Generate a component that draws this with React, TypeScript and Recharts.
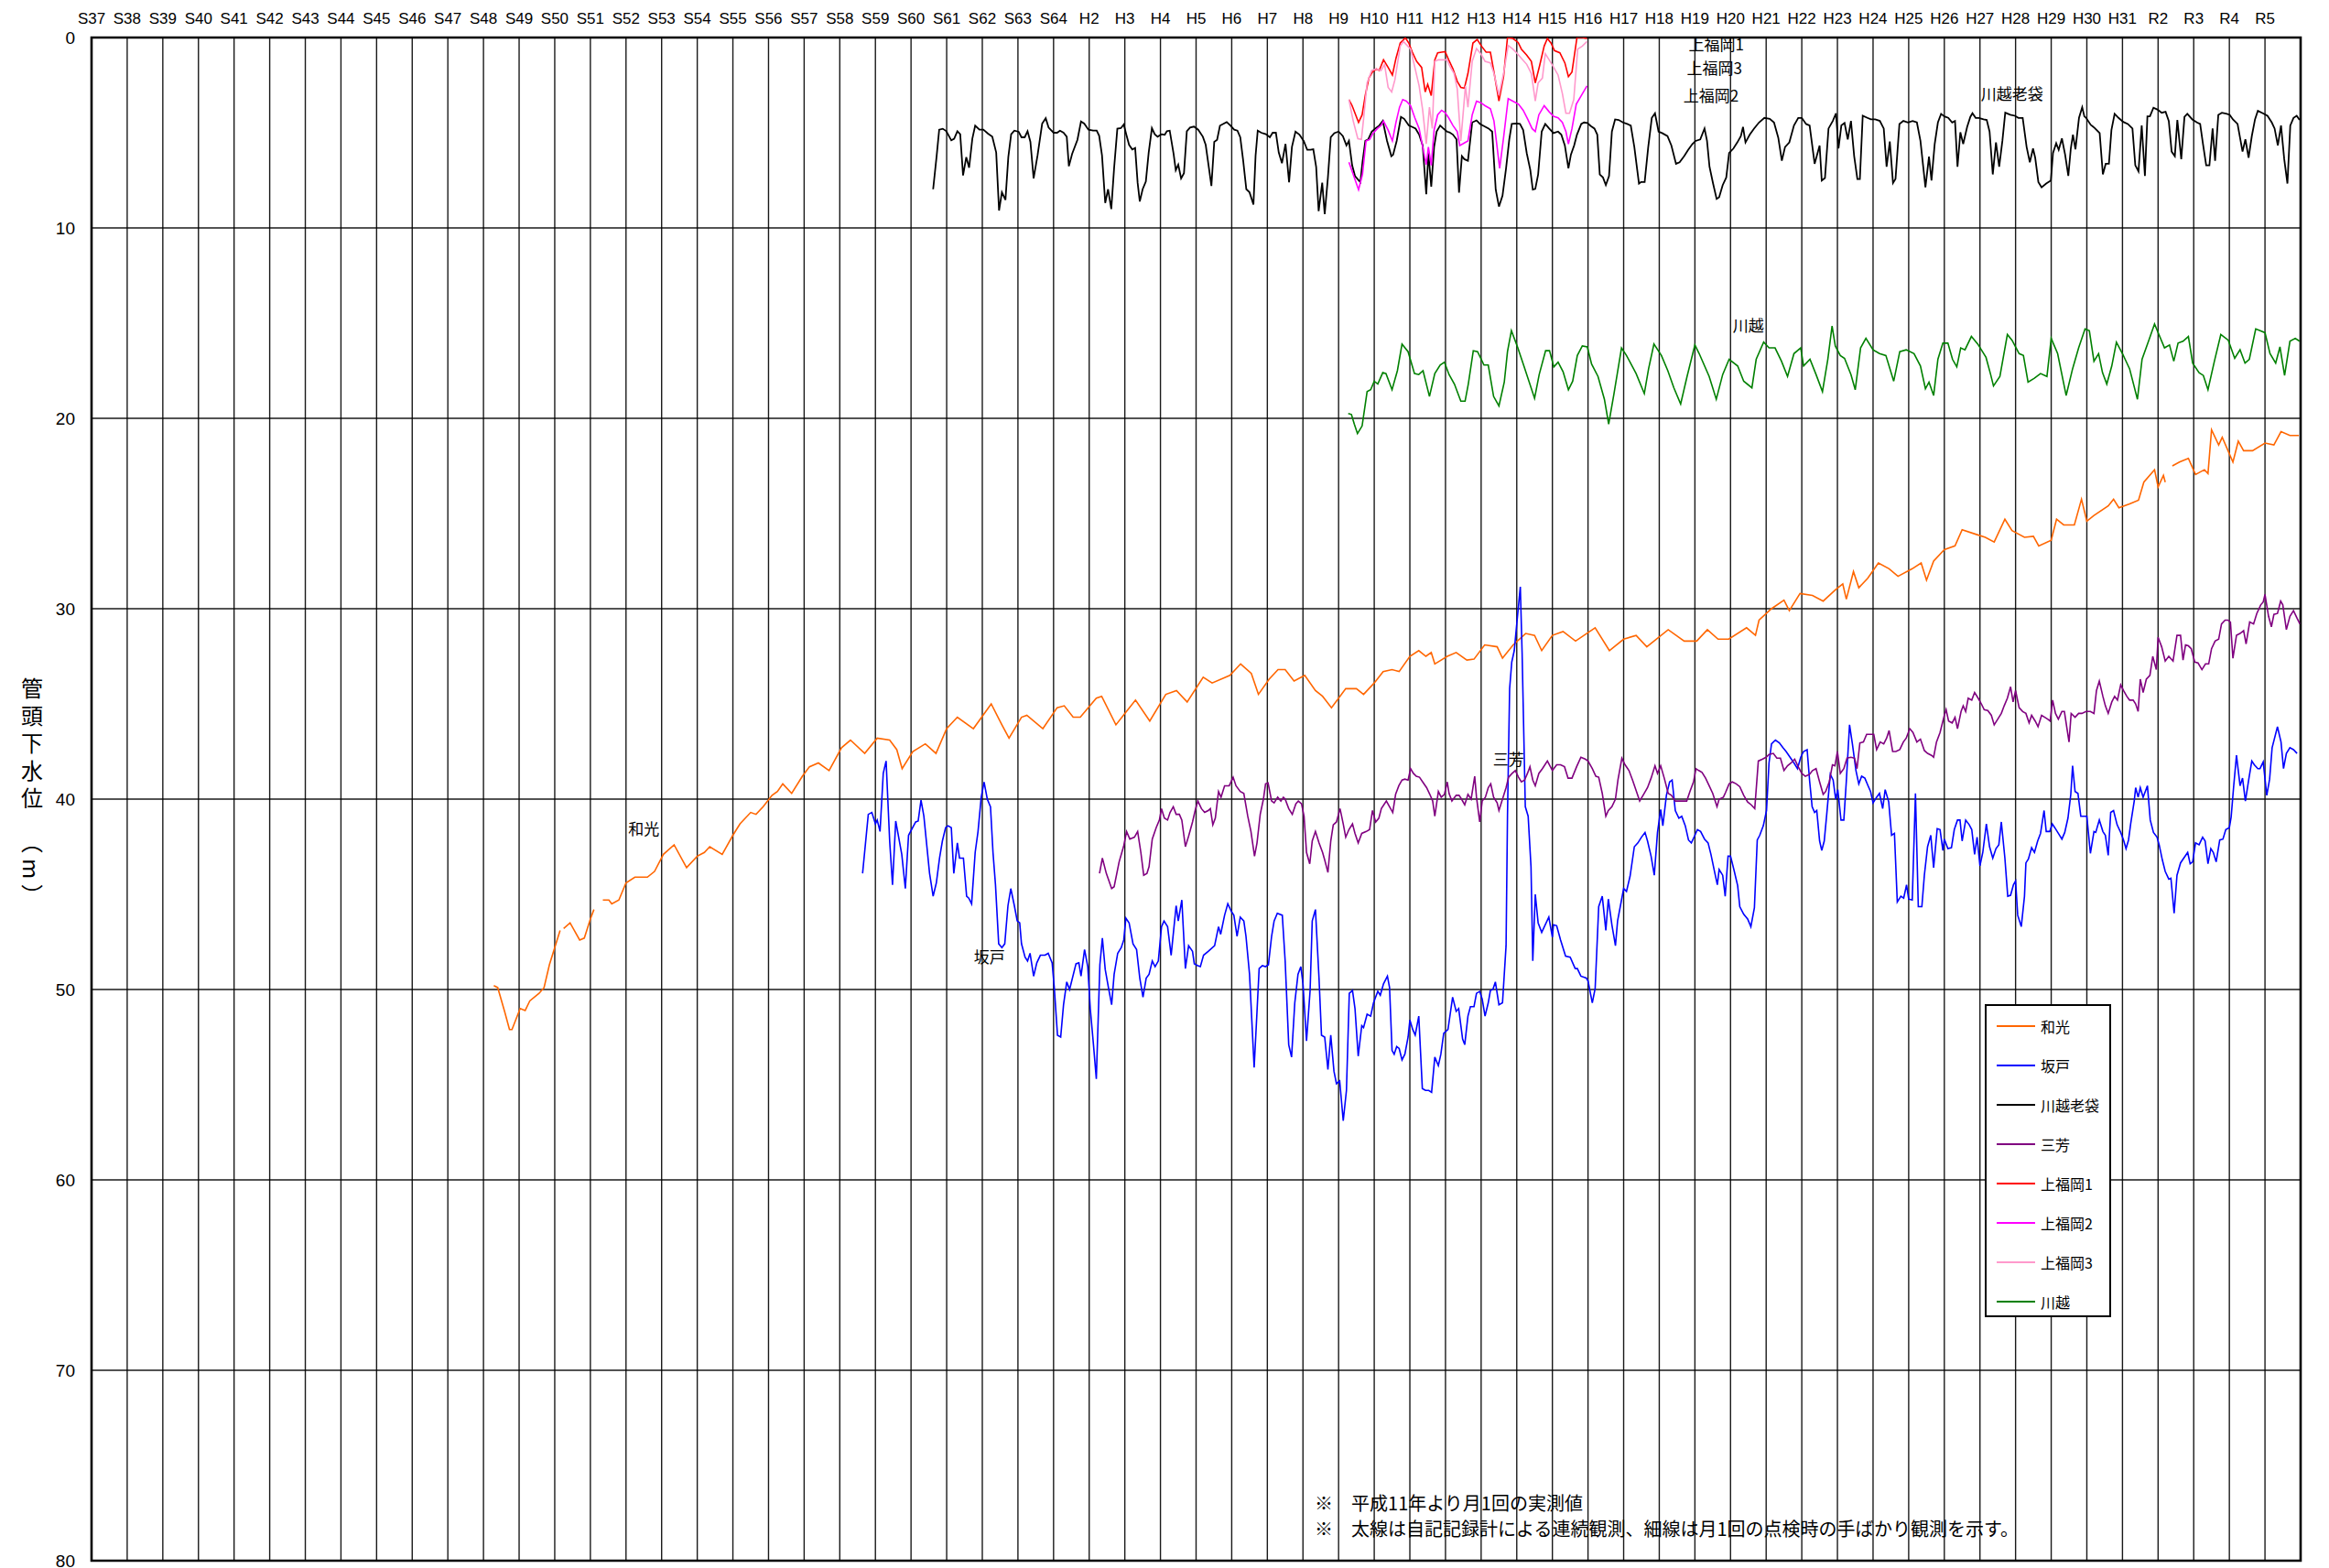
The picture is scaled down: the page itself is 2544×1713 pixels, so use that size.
import React from 'react';
import { LineChart, Line, XAxis, YAxis, CartesianGrid, ReferenceArea, ReferenceDot, Legend } from 'recharts';

type Pt = [number, number | null];

const START_YEAR = 1962;
const END_YEAR = 2024;
const ERA_LABELS = [
  'S37','S38','S39','S40','S41','S42','S43','S44','S45','S46','S47','S48','S49','S50','S51','S52','S53','S54','S55','S56','S57','S58','S59','S60','S61','S62','S63','S64',
  'H2','H3','H4','H5','H6','H7','H8','H9','H10','H11','H12','H13','H14','H15','H16','H17','H18','H19','H20','H21','H22','H23','H24','H25','H26','H27','H28','H29','H30','H31',
  'R2','R3','R4','R5',
];
const DEPTH_TICKS = [0, 10, 20, 30, 40, 50, 60, 70, 80];

const WAKO: Pt[] = [
  [1973.29,49.8],[1973.4,49.9],[1973.6,51.2],[1973.73,52.1],[1973.8,52.1],[1974.03,51.0],[1974.17,51.1],[1974.3,50.6],[1974.56,50.2],[1974.7,49.9],[1974.85,48.7],[1975.0,47.8],[1975.15,46.9],[1975.2,null],[1975.25,46.8],[1975.43,46.5],[1975.7,47.4],[1975.83,47.3],[1976.0,46.3],[1976.1,45.8],[1976.22,null],[1976.35,45.3],[1976.52,45.3],[1976.6,45.5],[1976.8,45.3],[1977.0,44.4],[1977.25,44.1],[1977.6,44.1],[1977.8,43.8],[1978.05,42.9],[1978.35,42.4],[1978.7,43.6],[1979.0,43.0],[1979.2,42.8],[1979.35,42.5],[1979.7,42.9],[1980.0,41.9],[1980.2,41.3],[1980.5,40.7],[1980.65,40.8],[1980.85,40.4],[1981.1,39.8],[1981.25,39.6],[1981.4,39.2],[1981.65,39.7],[1981.95,38.8],[1982.15,38.3],[1982.4,38.1],[1982.7,38.5],
  [1983.05,37.3],[1983.3,36.9],[1983.7,37.6],[1984.05,36.8],[1984.4,36.9],[1984.6,37.4],[1984.75,38.4],[1985.05,37.5],[1985.4,37.1],[1985.7,37.6],[1986.0,36.3],[1986.3,35.7],[1986.75,36.3],[1987.25,35.0],[1987.55,36.1],[1987.75,36.8],[1988.1,35.7],[1988.25,35.6],[1988.7,36.3],[1989.1,35.2],[1989.3,35.1],[1989.55,35.7],[1989.75,35.7],[1990.2,34.7],[1990.35,34.6],[1990.75,36.1],[1991.0,35.5],[1991.3,34.8],[1991.7,35.9],[1992.15,34.5],[1992.45,34.3],[1992.75,34.9],[1993.2,33.6],[1993.45,33.9],[1993.95,33.5],[1994.25,32.9],[1994.55,33.4],[1994.75,34.5],[1995.05,33.7],[1995.3,33.2],[1995.5,33.2],[1995.75,33.8],[1996.05,33.5],[1996.35,34.3],[1996.55,34.6],[1996.8,35.2],[1997.2,34.2],[1997.5,34.2],[1997.7,34.5],[1998.0,33.9],[1998.25,33.3],[1998.5,33.2],[1998.7,33.3],
  [1999.0,32.5],[1999.25,32.2],[1999.45,32.5],[1999.6,32.3],[1999.7,32.9],[2000.05,32.5],[2000.3,32.3],[2000.6,32.7],[2000.8,32.65],[2001.1,31.9],[2001.45,32.0],[2001.6,32.6],[2001.9,31.9],[2002.25,31.3],[2002.5,31.4],[2002.7,32.2],[2003.0,31.4],[2003.3,31.2],[2003.65,31.7],[2004.2,31.0],[2004.6,32.2],[2005.0,31.6],[2005.35,31.4],[2005.65,32.0],[2006.25,31.1],[2006.7,31.7],[2007.05,31.7],[2007.35,31.1],[2007.65,31.6],[2007.95,31.6],[2008.45,31.0],[2008.7,31.4],[2008.8,30.6],[2009.15,30.0],[2009.5,29.55],[2009.65,30.1],[2009.95,29.2],[2010.3,29.3],[2010.6,29.6],[2010.95,29.0],[2011.15,28.7],[2011.25,29.5],[2011.45,28.05],[2011.6,28.9],[2011.85,28.4],[2012.15,27.6],[2012.45,27.9],[2012.7,28.3],[2013.1,27.9],[2013.35,27.6],[2013.5,28.5],[2013.7,27.5],[2014.0,26.9],[2014.3,26.7],[2014.5,25.85],[2014.9,26.1],[2015.15,26.25],[2015.4,26.5],[2015.7,25.3],[2015.9,25.9],[2016.25,26.25],[2016.5,26.2],[2016.65,26.7],[2017.0,26.4],[2017.15,25.3],[2017.35,25.6],[2017.65,25.6],[2017.85,24.25],[2018.0,25.4],[2018.2,25.1],[2018.6,24.6],[2018.75,24.25],[2018.9,24.7],[2019.2,24.5],[2019.45,24.3],[2019.6,23.35],[2019.9,22.7],[2020.0,23.6],[2020.15,23.0],[2020.2,23.35],[2020.3,null],[2020.4,22.5],[2020.6,22.3],[2020.85,22.1],[2021.05,22.95],[2021.3,22.7],[2021.4,22.9],[2021.5,20.6],[2021.7,21.4],[2021.8,21.0],[2022.1,22.3],[2022.25,21.2],[2022.4,21.7],[2022.65,21.7],[2023.0,21.3],[2023.25,21.4],[2023.45,20.7],[2023.7,20.9],[2023.95,20.9],
];

const SAKADO: Pt[] = [
  [1983.64,43.9],[1983.8,40.8],[1983.9,40.7],[1984.0,41.3],[1984.05,41.1],[1984.13,41.7],[1984.22,38.65],[1984.3,38.0],[1984.4,42.2],[1984.48,44.5],[1984.57,41.15],[1984.74,42.9],[1984.84,44.7],[1984.93,41.9],[1985.13,41.2],[1985.2,41.15],[1985.28,40.05],[1985.36,40.9],[1985.52,43.9],[1985.62,45.1],[1985.71,44.4],[1985.8,43.1],[1985.88,42.2],[1985.97,41.5],[1986.04,41.4],[1986.13,41.5],[1986.2,43.9],[1986.3,42.3],[1986.36,43.1],[1986.47,43.1],[1986.56,45.1],[1986.62,45.2],[1986.7,45.5],[1986.8,42.8],[1986.88,41.7],[1986.97,39.9],[1987.05,39.1],[1987.14,40.0],[1987.23,40.4],[1987.3,42.8],[1987.37,44.5],[1987.46,47.6],[1987.55,47.8],[1987.63,47.6],[1987.72,45.6],[1987.8,44.7],[1987.9,45.6],[1987.98,46.4],[1988.05,46.5],[1988.1,47.6],[1988.2,48.3],[1988.27,48.5],[1988.34,48.1],[1988.44,49.3],[1988.53,48.6],[1988.63,48.2],[1988.76,48.2],[1988.85,48.1],[1988.96,48.6],[1989.02,49.9],[1989.11,52.4],[1989.2,52.5],[1989.28,50.8],[1989.37,49.6],[1989.45,50.0],[1989.63,48.65],[1989.71,48.6],[1989.77,49.3],[1989.87,47.9],[1989.96,48.8],[1990.03,51.0],[1990.12,52.9],[1990.2,54.7],[1990.3,48.7],[1990.37,47.3],[1990.45,48.95],[1990.54,49.9],[1990.63,50.8],[1990.7,49.2],[1990.8,48.1],[1990.9,47.8],[1990.97,47.4],[1991.03,46.25],[1991.12,46.5],[1991.23,47.6],[1991.33,47.9],[1991.42,49.4],[1991.51,50.4],[1991.6,49.4],[1991.68,49.2],[1991.77,48.5],[1991.85,48.8],[1991.94,48.5],[1992.03,46.7],[1992.1,46.4],[1992.2,46.7],[1992.3,48.2],[1992.44,45.6],[1992.5,46.4],[1992.6,45.3],[1992.7,48.9],[1992.79,47.7],[1992.9,48.0],[1992.95,48.65],[1993.05,48.75],[1993.12,48.8],[1993.21,48.2],[1993.34,48.0],[1993.52,47.7],[1993.63,46.7],[1993.69,47.1],[1993.8,46.1],[1993.89,45.5],[1993.99,45.9],[1994.06,46.1],[1994.15,47.2],[1994.24,46.2],[1994.34,46.4],[1994.4,47.2],[1994.5,49.2],[1994.63,54.1],[1994.71,51.15],[1994.77,48.9],[1994.86,48.75],[1994.95,48.8],[1995.03,48.7],[1995.12,47.2],[1995.19,46.4],[1995.28,46.0],[1995.42,46.1],[1995.5,48.5],[1995.6,52.9],[1995.68,53.55],[1995.77,50.7],[1995.86,49.2],[1995.94,48.8],[1996.0,49.7],[1996.1,52.7],[1996.2,50.05],[1996.26,46.4],[1996.35,45.8],[1996.45,49.4],[1996.52,52.4],[1996.61,52.5],[1996.7,54.2],[1996.78,52.4],[1996.87,54.3],[1996.94,54.95],[1997.03,54.8],[1997.13,56.9],[1997.22,55.3],[1997.3,50.2],[1997.39,50.05],[1997.46,51.0],[1997.55,53.5],[1997.65,51.9],[1997.7,52.0],[1997.8,51.3],[1997.9,51.4],[1997.98,50.7],[1998.1,50.1],[1998.17,50.3],[1998.26,49.7],[1998.37,49.3],[1998.43,49.9],[1998.5,53.2],[1998.56,53.4],[1998.63,53.0],[1998.7,53.1],[1998.78,53.7],[1998.86,53.4],[1998.95,52.5],[1999.0,51.6],[1999.08,52.1],[1999.15,52.4],[1999.25,51.4],[1999.35,55.2],[1999.44,55.3],[1999.53,55.3],[1999.61,55.4],[1999.7,53.55],[1999.8,54.0],[1999.87,53.4],[1999.95,52.3],[2000.07,52.1],[2000.2,50.4],[2000.3,51.15],[2000.37,51.0],[2000.48,52.6],[2000.54,52.9],[2000.63,51.4],[2000.7,50.9],[2000.8,50.9],[2000.87,50.2],[2000.96,50.1],[2001.03,50.5],[2001.11,51.4],[2001.2,50.7],[2001.26,50.05],[2001.33,50.0],[2001.4,49.6],[2001.5,50.8],[2001.6,50.7],[2001.7,47.7],[2001.74,40.85],[2001.8,34.2],[2001.86,32.8],[2001.93,32.2],[2002.0,30.8],[2002.1,28.85],[2002.15,32.3],[2002.24,40.4],[2002.32,40.9],[2002.4,43.55],[2002.45,48.5],[2002.52,45.0],[2002.6,46.5],[2002.7,47.0],
  [2002.9,46.2],[2003.0,47.25],[2003.03,46.6],[2003.12,46.65],[2003.23,47.4],[2003.37,48.25],[2003.5,48.3],[2003.64,48.9],[2003.7,48.9],[2003.8,49.3],[2003.95,49.4],[2004.0,49.55],[2004.12,50.7],[2004.2,49.95],[2004.3,45.65],[2004.4,45.1],[2004.5,46.9],[2004.57,45.25],[2004.67,46.6],[2004.77,47.7],[2004.83,46.4],[2005.0,44.7],[2005.08,44.85],[2005.18,44.05],[2005.3,42.5],[2005.4,42.3],[2005.5,42.0],[2005.6,41.75],[2005.67,42.2],[2005.77,43.0],[2005.86,44.0],[2005.95,41.75],[2006.04,40.55],[2006.1,41.4],[2006.2,39.8],[2006.29,39.1],[2006.36,39.0],[2006.45,40.6],[2006.55,41.0],[2006.63,40.9],[2006.73,41.4],[2006.82,42.15],[2006.9,42.3],[2007.0,41.9],[2007.07,41.6],[2007.16,41.7],[2007.27,42.1],[2007.37,42.3],[2007.45,42.9],[2007.55,43.8],[2007.63,44.5],[2007.68,43.7],[2007.78,44.0],[2007.85,45.1],[2007.93,43.0],[2008.0,43.0],[2008.1,43.75],[2008.2,44.55],[2008.26,45.65],[2008.37,46.05],[2008.48,46.3],[2008.57,46.7],[2008.67,45.7],[2008.75,42.15],[2008.82,41.9],[2008.92,41.4],[2009.01,40.6],[2009.08,38.1],[2009.15,37.1],[2009.26,36.9],[2009.37,37.05],[2009.47,37.3],[2009.56,37.5],[2009.67,37.8],[2009.78,38.1],[2009.88,38.4],[2009.97,37.8],[2010.05,37.5],[2010.15,37.4],[2010.22,39.05],[2010.29,40.4],[2010.36,40.7],[2010.42,40.6],[2010.5,42.2],[2010.56,42.7],[2010.63,42.2],[2010.7,40.8],[2010.8,38.7],[2010.88,39.0],[2010.95,40.0],[2011.01,39.5],[2011.1,41.1],[2011.18,41.1],[2011.25,39.05],[2011.34,36.1],[2011.42,37.1],[2011.52,38.5],[2011.6,39.2],[2011.68,38.8],[2011.77,38.9],[2011.86,39.3],[2011.93,39.6],[2012.0,40.2],[2012.1,39.9],[2012.18,39.7],[2012.27,40.5],[2012.34,39.5],[2012.44,40.15],[2012.52,41.9],[2012.6,41.8],[2012.68,45.4],[2012.78,45.1],[2012.86,45.2],[2012.94,44.5],[2013.0,45.25],[2013.1,45.3],[2013.19,39.7],[2013.27,45.65],[2013.37,45.65],[2013.44,44.0],[2013.53,42.5],[2013.62,41.9],[2013.7,43.6],[2013.8,41.55],[2013.88,41.6],[2013.96,42.7],[2014.0,42.1],[2014.1,42.6],[2014.2,42.55],[2014.28,41.6],[2014.37,41.1],[2014.44,41.1],[2014.5,42.2],[2014.6,41.1],[2014.7,41.35],[2014.77,41.6],[2014.85,42.9],[2014.92,42.0],[2015.0,43.5],[2015.08,42.8],[2015.18,41.3],[2015.27,42.5],[2015.36,43.1],[2015.45,42.6],[2015.53,42.4],[2015.6,41.2],[2015.7,43.1],[2015.78,45.1],[2015.86,45.05],[2015.94,44.5],[2016.0,44.3],[2016.06,46.1],[2016.16,46.7],[2016.25,45.1],[2016.29,43.35],[2016.36,43.15],[2016.45,42.55],[2016.53,42.8],[2016.62,42.2],[2016.7,41.8],[2016.8,40.6],[2016.86,41.7],[2016.96,41.7],[2017.03,41.3],[2017.1,41.5],[2017.2,41.8],[2017.3,42.1],[2017.38,41.75],[2017.47,41.0],[2017.55,39.75],[2017.6,38.25],[2017.67,39.6],[2017.75,39.7],[2017.83,40.9],[2017.93,40.9],[2018.0,40.9],[2018.1,42.85],[2018.2,41.7],[2018.25,41.75],[2018.35,41.1],[2018.45,41.7],[2018.52,41.9],[2018.6,42.95],[2018.67,40.7],[2018.75,40.6],[2018.85,41.35],[2018.95,41.75],[2019.03,42.15],[2019.1,42.6],[2019.17,42.15],[2019.23,41.3],[2019.33,40.1],[2019.37,39.4],[2019.44,39.9],[2019.5,39.4],[2019.58,39.9],[2019.7,39.3],[2019.78,41.1],[2019.87,41.75],[2019.97,42.0],[2020.03,42.4],[2020.12,43.2],[2020.2,43.8],[2020.3,44.2],[2020.36,44.15],[2020.45,46.0],[2020.53,44.0],[2020.63,43.35],[2020.72,43.1],[2020.83,42.8],[2020.9,43.4],[2020.97,43.3],[2021.05,42.3],[2021.15,42.4],[2021.25,42.0],[2021.32,42.2],[2021.4,43.4],[2021.48,42.6],[2021.55,42.8],[2021.63,43.3],[2021.73,42.15],[2021.82,42.1],[2021.9,41.6],[2022.0,41.5],[2022.05,40.95],[2022.12,39.35],[2022.2,37.7],[2022.3,39.3],[2022.37,38.9],[2022.45,40.1],[2022.55,38.9],[2022.63,38.0],[2022.7,38.2],[2022.8,38.4],[2022.86,38.4],[2022.95,38.05],[2023.05,39.8],[2023.13,38.95],[2023.2,37.3],[2023.35,36.2],[2023.45,37.0],[2023.52,38.4],[2023.6,37.6],[2023.7,37.3],[2023.8,37.4],[2023.9,37.6],
];

const OIBUKURO: Pt[] = [
  [1985.62,7.97],[1985.72,6.2],[1985.79,4.84],[1985.89,4.79],[1985.99,4.92],[1986.13,5.4],[1986.21,5.32],[1986.3,4.92],[1986.38,5.08],[1986.46,7.24],[1986.55,6.28],[1986.63,6.84],[1986.72,5.32],[1986.8,4.63],[1986.92,4.84],[1987.03,4.84],[1987.16,5.05],[1987.28,5.21],[1987.39,6.04],[1987.47,9.09],[1987.55,8.13],[1987.65,8.53],[1987.73,6.28],[1987.81,5.08],[1987.9,4.89],[1988.02,4.95],[1988.1,5.24],[1988.19,5.24],[1988.27,4.92],[1988.35,5.48],[1988.44,7.4],[1988.55,6.2],[1988.68,4.52],[1988.78,4.24],[1988.86,4.73],[1989.0,5.0],[1989.1,5.0],[1989.18,4.89],[1989.28,5.0],[1989.37,5.21],[1989.43,6.76],[1989.52,6.12],[1989.67,5.37],[1989.77,4.41],[1989.86,4.52],[1989.98,4.84],[1990.11,4.89],[1990.21,4.89],[1990.28,5.16],[1990.36,6.2],[1990.45,8.69],[1990.53,7.97],[1990.62,9.01],[1990.7,6.84],[1990.79,4.79],[1990.89,4.76],[1990.97,4.57],[1991.04,5.08],[1991.12,5.64],[1991.21,5.88],[1991.29,5.8],[1991.36,7.64],[1991.42,8.61],[1991.5,7.97],[1991.59,7.56],[1991.67,6.04],[1991.76,4.76],[1991.84,5.08],[1991.92,5.21],[1992.03,5.08],[1992.12,5.11],[1992.18,4.92],[1992.26,4.89],[1992.37,6.12],[1992.43,6.97],[1992.5,6.68],[1992.58,7.4],[1992.66,7.13],[1992.74,4.92],[1992.83,4.73],[1992.94,4.68],[1993.06,4.84],[1993.19,5.21],[1993.27,5.64],[1993.36,6.84],[1993.43,7.8],[1993.51,5.48],[1993.59,5.37],[1993.67,4.63],[1993.78,4.52],[1993.86,4.44],[1993.97,4.63],[1994.07,4.84],[1994.16,4.89],[1994.24,5.24],[1994.32,6.44],[1994.41,7.97],[1994.5,8.13],[1994.61,8.77],[1994.67,6.2],[1994.73,4.89],[1994.83,5.0],[1994.96,5.08],[1995.07,5.24],[1995.15,5.0],[1995.24,5.0],[1995.32,6.04],[1995.41,6.6],
  [1995.51,5.59],[1995.61,7.6],[1995.69,5.75],[1995.79,4.94],[1995.9,5.1],[1996.02,5.43],[1996.12,5.9],[1996.21,5.9],[1996.29,5.87],[1996.37,6.79],[1996.44,9.12],[1996.54,7.62],[1996.61,9.28],[1996.7,7.35],[1996.78,5.23],[1996.88,5.02],[1997.0,4.94],[1997.12,5.18],[1997.22,5.67],[1997.29,5.43],[1997.38,6.71],[1997.46,7.27],[1997.61,7.6],[1997.67,6.55],[1997.75,5.43],[1997.83,5.35],[1997.93,4.94],[1998.03,4.78],[1998.14,4.62],[1998.24,4.38],[1998.36,5.43],[1998.48,6.23],[1998.53,6.15],[1998.63,5.43],[1998.75,4.17],[1998.84,4.27],[1998.97,4.62],[1999.07,4.7],[1999.16,4.78],[1999.26,5.1],[1999.36,5.67],[1999.46,8.23],[1999.52,6.07],[1999.6,7.83],[1999.68,5.75],[1999.75,4.94],[1999.85,4.62],[1999.94,4.78],[2000.04,4.94],[2000.11,4.98],[2000.21,5.1],[2000.31,5.35],[2000.38,8.15],[2000.46,6.23],[2000.53,6.39],[2000.63,6.47],[2000.75,4.46],[2000.87,4.35],[2000.97,4.54],[2001.08,4.65],[2001.21,4.78],[2001.31,4.94],[2001.41,7.99],[2001.5,8.88],[2001.6,8.31],[2001.7,6.87],[2001.79,5.35],[2001.86,4.54],[2001.99,4.51],[2002.09,4.54],[2002.18,4.86],[2002.28,6.07],[2002.38,6.95],[2002.45,7.99],[2002.52,7.95],[2002.6,7.19],[2002.7,4.94],[2002.8,4.54],[2002.91,4.78],[2003.03,5.02],[2003.16,4.94],[2003.25,5.1],[2003.35,5.67],[2003.45,6.87],[2003.52,6.15],[2003.61,5.67],[2003.69,5.1],[2003.81,4.54],[2003.89,4.46],[2003.98,4.49],[2004.08,4.65],[2004.18,4.78],[2004.26,5.1],[2004.33,7.19],[2004.42,7.35],[2004.5,7.75],[2004.59,7.27],[2004.67,4.94],[2004.76,4.3],[2004.86,4.33],[2004.98,4.46],[2005.1,4.54],[2005.2,4.62],[2005.3,5.75],[2005.43,7.67],[2005.49,7.59],[2005.59,7.59],[2005.69,5.75],[2005.79,4.22],[2005.88,3.98],[2005.98,4.94],[2006.08,5.02],[2006.23,5.18],[2006.34,5.67],[2006.47,6.63],[2006.57,6.55],[2006.7,6.23],[2006.81,5.9],[2006.93,5.59],[2007.02,5.43],[2007.15,5.35],[2007.27,4.78],[2007.34,5.43],[2007.41,6.79],[2007.51,7.67],[2007.61,8.48],[2007.68,8.39],[2007.78,7.75],[2007.88,7.35],[2007.96,6.07],[2008.08,5.83],[2008.19,5.51],[2008.29,5.18],[2008.35,4.7],[2008.42,5.51],[2008.54,5.1],[2008.66,4.78],[2008.8,4.46],[2008.95,4.22],[2009.1,4.27],[2009.22,4.46],[2009.34,5.26],[2009.44,6.47],[2009.53,5.75],[2009.65,5.51],[2009.78,4.62],[2009.9,4.22],[2010.0,4.22],[2010.12,4.54],[2010.22,4.62],[2010.36,6.63],
  [2010.5,5.67],[2010.56,7.51],[2010.65,7.38],[2010.75,4.78],[2010.87,4.38],[2010.96,3.98],[2011.03,5.83],[2011.11,4.62],[2011.2,4.49],[2011.29,5.35],[2011.38,4.38],[2011.47,6.23],[2011.56,7.43],[2011.63,7.43],[2011.71,4.11],[2011.84,4.22],[2011.94,4.3],[2012.06,4.3],[2012.19,4.38],[2012.3,4.78],[2012.38,6.79],[2012.47,5.46],[2012.56,7.64],[2012.63,7.43],[2012.74,4.54],[2012.85,4.38],[2012.98,4.46],[2013.11,4.38],[2013.23,4.46],[2013.33,5.43],[2013.47,7.87],[2013.57,6.26],[2013.64,7.51],[2013.73,5.59],[2013.82,4.46],[2013.91,4.01],[2014.0,4.14],[2014.11,4.22],[2014.22,4.46],[2014.3,4.38],[2014.37,6.79],[2014.45,4.98],[2014.53,5.59],[2014.64,4.7],[2014.73,4.17],[2014.79,3.98],[2014.88,4.22],[2014.97,4.22],[2015.1,4.3],[2015.19,4.33],[2015.27,4.94],[2015.36,7.19],[2015.45,5.51],[2015.54,6.79],[2015.63,5.43],[2015.71,3.95],[2015.85,4.06],[2015.98,4.11],[2016.08,4.22],[2016.2,4.22],[2016.31,5.75],[2016.4,6.55],[2016.49,5.83],[2016.55,6.31],[2016.64,7.59],[2016.73,7.87],[2016.86,7.67],[2016.99,7.51],[2017.05,6.07],[2017.14,5.55],[2017.21,5.9],[2017.3,5.3],[2017.39,6.15],[2017.48,7.27],[2017.55,5.83],[2017.61,5.1],[2017.68,5.87],[2017.78,4.22],[2017.87,3.66],[2017.93,4.14],[2017.98,4.22],[2018.11,4.59],[2018.22,4.75],[2018.36,5.02],[2018.45,7.19],[2018.53,6.63],[2018.62,6.63],[2018.69,4.86],[2018.78,4.01],[2018.89,4.22],[2019.02,4.43],[2019.15,4.54],[2019.28,4.78],[2019.36,6.71],[2019.45,7.03],[2019.54,4.62],[2019.63,7.27],[2019.7,4.14],[2019.77,4.14],[2019.87,3.69],[2019.99,3.79],[2020.1,3.95],[2020.21,3.9],[2020.3,4.38],[2020.38,5.99],[2020.47,6.23],[2020.54,4.33],[2020.65,6.39],[2020.74,4.17],[2020.82,4.01],[2020.96,4.3],[2021.09,4.46],[2021.18,4.54],[2021.26,5.59],[2021.35,6.71],[2021.44,6.71],[2021.53,4.78],[2021.6,6.47],[2021.69,4.06],[2021.79,3.95],[2021.93,4.01],[2022.01,4.06],[2022.1,4.3],[2022.23,4.54],[2022.37,5.99],[2022.45,5.35],[2022.54,6.31],[2022.63,5.18],[2022.72,4.3],[2022.8,3.85],[2022.94,3.98],[2023.07,4.11],[2023.19,4.46],[2023.27,4.78],[2023.36,5.67],[2023.45,4.62],[2023.54,6.39],[2023.63,7.67],[2023.71,4.62],[2023.8,4.22],[2023.89,4.11],[2023.97,4.33],
];

const MIYOSHI: Pt[] = [
  [1990.29,43.9],[1990.37,43.1],[1990.48,43.9],[1990.63,44.7],[1990.7,44.6],[1990.84,43.3],[1990.97,42.45],[1991.05,41.7],[1991.14,42.1],[1991.27,42.0],[1991.36,41.7],[1991.45,42.8],[1991.53,44.0],[1991.62,43.9],[1991.68,43.55],[1991.77,42.1],[1991.88,41.5],[1991.97,41.1],[1992.03,40.5],[1992.11,41.0],[1992.2,41.1],[1992.27,40.7],[1992.36,40.4],[1992.44,40.8],[1992.53,40.8],[1992.6,41.1],[1992.7,42.5],[1992.79,41.95],[1992.9,41.2],[1992.98,40.55],[1993.05,40.1],[1993.15,40.5],[1993.24,40.7],[1993.34,40.6],[1993.4,40.5],[1993.47,41.35],[1993.54,41.0],[1993.63,39.6],[1993.7,39.9],[1993.8,39.3],[1993.93,39.3],[1994.04,38.85],[1994.12,39.3],[1994.24,39.6],[1994.34,39.7],[1994.45,40.9],[1994.54,41.7],[1994.64,43.0],[1994.71,42.3],[1994.8,40.8],[1994.89,40.0],[1994.95,39.2],[1995.02,39.15],[1995.12,40.1],[1995.19,40.2],[1995.29,39.9],[1995.38,40.1],[1995.45,39.9],[1995.5,40.0],[1995.6,40.5],[1995.7,40.8],[1995.8,40.25],[1995.87,40.1],[1995.96,40.25],[1996.03,40.9],[1996.1,42.8],[1996.19,43.4],[1996.26,42.2],[1996.35,41.7],[1996.45,42.3],[1996.55,42.8],[1996.61,43.2],[1996.7,43.85],[1996.78,42.2],[1996.85,41.35],[1996.94,41.2],[1997.04,40.5],[1997.13,41.3],[1997.2,42.0],[1997.29,41.6],[1997.39,41.3],[1997.46,41.8],[1997.55,42.3],[1997.65,41.8],[1997.78,41.7],[1997.87,41.6],[1997.95,40.6],[1998.04,41.2],[1998.13,41.0],[1998.2,40.5],[1998.34,40.1],[1998.43,40.4],[1998.52,40.7],[1998.6,39.75],[1998.69,39.3],[1998.78,39.0],[1998.86,38.95],[1998.95,39.0],[1999.02,38.4],[1999.1,38.65],[1999.18,38.8],[1999.27,38.85],[1999.36,39.1],[1999.47,39.4],[1999.56,39.75],[1999.64,40.1],[1999.7,40.9],[1999.8,39.6],[1999.88,39.9],[1999.97,39.75],[2000.05,39.1],[2000.1,39.7],[2000.18,40.1],[2000.3,39.8],[2000.38,39.8],[2000.45,40.0],[2000.54,40.3],[2000.63,39.75],[2000.72,40.0],[2000.82,38.8],[2000.87,39.9],[2000.96,41.2],[2001.03,40.1],[2001.12,39.9],[2001.2,39.4],[2001.27,39.2],[2001.35,39.9],[2001.45,40.2],[2001.5,40.6],[2001.6,40.0],[2001.7,39.4],[2001.77,38.85],[2001.87,38.65],[2001.96,38.5],[2002.05,38.85],[2002.13,39.1],[2002.22,39.0],[2002.3,38.65],[2002.37,38.3],[2002.45,39.0],[2002.52,39.3],[2002.62,38.65],[2002.72,38.4],
  [2002.86,38.0],[2003.0,38.5],[2003.12,38.2],[2003.23,38.2],[2003.34,38.3],[2003.44,38.9],[2003.55,38.9],[2003.68,38.3],[2003.8,37.8],[2003.92,37.9],[2004.0,38.0],[2004.12,38.4],[2004.22,38.8],[2004.3,38.85],[2004.4,39.7],[2004.5,40.9],[2004.57,40.6],[2004.67,40.4],[2004.77,40.0],[2004.84,39.0],[2004.95,37.85],[2005.04,38.2],[2005.15,38.5],[2005.25,39.0],[2005.36,39.6],[2005.45,40.1],[2005.56,39.75],[2005.67,39.4],[2005.77,38.9],[2005.88,38.25],[2005.95,38.65],[2006.04,38.25],[2006.14,38.9],[2006.25,39.7],[2006.34,39.8],[2006.45,40.1],[2006.56,40.1],[2006.66,40.1],[2006.77,40.1],[2006.86,39.6],[2006.96,39.1],[2007.03,38.4],[2007.11,38.5],[2007.2,38.6],[2007.3,38.9],[2007.4,39.3],[2007.5,39.7],[2007.62,40.4],[2007.68,40.0],[2007.8,39.9],[2007.86,39.65],[2007.96,39.2],[2008.05,39.1],[2008.16,39.2],[2008.26,39.35],[2008.37,39.8],[2008.48,40.15],[2008.58,40.3],[2008.68,40.5],[2008.78,38.0],[2008.9,37.9],[2009.0,37.8],[2009.08,37.65],[2009.2,37.6],[2009.3,37.85],[2009.4,37.85],[2009.5,38.5],[2009.6,38.25],[2009.7,38.1],[2009.8,37.9],[2009.9,38.3],[2010.0,38.65],[2010.1,38.8],[2010.22,38.7],[2010.3,38.5],[2010.4,38.4],[2010.5,39.1],[2010.6,39.75],[2010.67,39.6],[2010.77,39.1],[2010.86,38.2],[2010.93,38.25],[2011.0,37.5],[2011.08,38.65],[2011.18,38.4],[2011.27,37.85],[2011.38,37.8],[2011.48,37.85],[2011.55,38.4],[2011.63,37.05],[2011.73,37.0],[2011.82,36.6],[2011.93,36.6],[2012.02,36.6],[2012.1,37.4],[2012.2,37.0],[2012.3,37.1],[2012.38,36.8],[2012.45,36.4],[2012.55,37.5],[2012.64,37.5],[2012.75,37.4],[2012.85,37.0],[2012.93,36.8],[2013.03,36.3],[2013.12,36.5],[2013.23,37.0],[2013.33,36.85],[2013.44,37.45],[2013.53,37.6],[2013.64,37.7],[2013.7,37.8],[2013.78,37.0],[2013.88,36.5],[2014.0,35.6],[2014.05,35.3],[2014.12,35.9],[2014.22,36.0],[2014.3,35.7],[2014.37,36.3],[2014.47,35.4],[2014.53,35.1],[2014.6,35.4],[2014.67,34.7],[2014.77,34.8],[2014.85,34.4],[2014.95,34.7],[2015.04,35.0],[2015.12,35.3],[2015.22,35.35],[2015.32,35.6],[2015.4,36.1],[2015.5,35.8],[2015.6,35.5],[2015.68,35.1],[2015.77,34.7],[2015.86,34.1],[2015.93,34.9],[2016.0,34.3],[2016.1,35.2],[2016.2,35.4],[2016.29,35.5],[2016.38,36.0],[2016.45,35.6],[2016.55,35.9],[2016.63,36.2],[2016.73,35.6],[2016.82,35.7],[2016.9,35.8],[2016.97,35.9],[2017.04,34.8],[2017.12,35.5],[2017.2,35.8],[2017.3,35.4],[2017.37,35.4],[2017.5,37.0],[2017.56,35.5],[2017.67,35.7],[2017.77,35.5],[2017.86,35.5],[2017.98,35.4],[2018.1,35.4],[2018.2,35.5],[2018.27,34.3],[2018.35,33.8],[2018.45,34.6],[2018.52,35.1],[2018.6,35.5],[2018.7,34.9],[2018.78,34.6],[2018.86,34.8],[2018.95,34.0],[2019.03,34.3],[2019.12,34.6],[2019.2,34.8],[2019.3,34.8],[2019.37,35.0],[2019.44,35.4],[2019.5,33.7],[2019.58,34.4],[2019.67,33.7],[2019.77,33.5],[2019.85,32.5],[2019.95,33.2],[2020.0,31.5],[2020.1,32.0],[2020.2,32.75],[2020.3,32.5],[2020.42,32.75],[2020.53,31.4],[2020.63,31.4],[2020.7,32.7],[2020.77,31.9],[2020.85,31.95],[2020.93,32.1],[2021.03,32.8],[2021.12,32.85],[2021.23,33.2],[2021.33,32.9],[2021.42,32.9],[2021.5,32.1],[2021.6,31.7],[2021.7,31.6],[2021.78,30.8],[2021.88,30.6],[2021.96,30.6],[2022.03,30.7],[2022.1,32.6],[2022.2,31.4],[2022.3,31.3],[2022.4,31.15],[2022.47,31.85],[2022.57,30.7],[2022.68,30.8],[2022.77,30.25],[2022.88,29.8],[2022.95,29.65],[2023.0,29.25],[2023.1,30.4],[2023.18,30.95],[2023.25,30.3],[2023.35,30.25],[2023.44,29.6],[2023.5,29.8],[2023.6,31.1],[2023.7,30.4],[2023.8,30.1],[2023.9,30.5],[2023.98,30.8],
];

const KAMIFUKUOKA1: Pt[] = [
  [1997.29,3.26],[1997.38,3.58],[1997.56,4.46],[1997.66,4.06],[1997.75,3.02],[1997.85,2.13],[1997.95,1.81],[1998.06,1.65],[1998.14,1.73],[1998.26,1.17],[1998.39,1.57],[1998.51,1.97],[1998.61,1.09],[1998.73,0.29],[1998.82,0.13],[1998.87,0],[1998.97,0.29],[1999.07,0.77],[1999.19,1.25],[1999.33,1.57],[1999.43,2.86],[1999.5,2.46],[1999.6,3.05],[1999.7,1.17],[1999.78,0.8],[1999.89,0.77],[1999.99,0.74],[2000.09,1.17],[2000.21,1.65],[2000.33,2.3],[2000.43,2.62],[2000.53,2.66],[2000.63,1.89],[2000.77,0.29],[2000.89,0.1],[2001.01,0.45],[2001.14,0.77],[2001.26,0.77],[2001.36,1.81],[2001.5,3.34],[2001.63,2.05],[2001.74,0],[2001.89,0.05],[2002.04,0.26],[2002.13,0.61],[2002.28,0.93],[2002.41,1.25],[2002.52,2.38],[2002.64,1.49],[2002.77,0.45],[2002.86,0.05],[2002.96,0.29],[2003.06,0.69],[2003.21,0.8],[2003.35,1.33],[2003.45,2.05],[2003.55,1.81],[2003.69,0],[2003.84,0],[2003.97,0.05],
];

const KAMIFUKUOKA2: Pt[] = [
  [1997.29,6.55],[1997.41,7.19],[1997.56,7.99],[1997.67,7.19],[1997.77,5.43],[1997.87,5.35],[1997.97,5.02],[1998.09,4.78],[1998.19,4.62],[1998.26,4.38],[1998.39,4.86],[1998.51,5.43],[1998.61,4.46],[1998.71,3.66],[1998.8,3.26],[1998.9,3.34],[1999.02,3.58],[1999.14,4.22],[1999.26,4.78],[1999.36,5.75],[1999.46,6.68],[1999.52,5.75],[1999.6,6.71],[1999.68,4.86],[1999.78,4.06],[1999.89,3.82],[1999.99,3.95],[2000.09,4.22],[2000.21,4.62],[2000.33,4.94],[2000.4,5.67],[2000.48,5.59],[2000.63,5.43],[2000.75,4.06],[2000.87,3.34],[2000.99,3.42],[2001.11,3.58],[2001.26,3.74],[2001.36,4.38],[2001.52,6.87],[2001.63,5.26],[2001.76,3.21],[2001.89,3.34],[2002.05,3.5],[2002.18,3.82],[2002.31,4.3],[2002.43,4.78],[2002.52,4.94],[2002.62,4.06],[2002.77,3.58],[2002.91,3.9],[2003.03,4.14],[2003.16,4.22],[2003.28,4.46],[2003.38,4.94],[2003.45,5.59],[2003.55,4.78],[2003.67,3.5],[2003.82,3.02],[2003.97,2.54],
];

const KAMIFUKUOKA3: Pt[] = [
  [1997.29,3.26],[1997.41,4.38],[1997.54,5.31],[1997.64,5.35],[1997.7,4.3],[1997.8,2.38],[1997.93,1.73],[1998.06,1.65],[1998.19,1.73],[1998.29,1.41],[1998.39,2.62],[1998.49,2.86],[1998.58,2.22],[1998.73,0.45],[1998.82,0.21],[1998.94,0.45],[1999.02,0.61],[1999.14,1.57],[1999.26,2.54],[1999.36,3.82],[1999.46,5.59],[1999.55,3.66],[1999.63,4.78],[1999.7,1.25],[1999.8,1.17],[1999.91,1.17],[2000.04,1.17],[2000.14,1.57],[2000.24,1.89],[2000.33,2.7],[2000.43,5.43],[2000.51,3.66],[2000.56,2.54],[2000.63,3.66],[2000.75,1.25],[2000.87,0.58],[2000.99,0.85],[2001.11,1.25],[2001.26,1.33],[2001.36,1.89],[2001.5,3.02],[2001.63,1.89],[2001.76,0.42],[2001.89,0.61],[2002.02,0.85],[2002.13,1.09],[2002.28,1.41],[2002.41,1.89],[2002.52,3.34],[2002.6,2.38],[2002.72,2.13],[2002.8,0.85],[2002.91,1.17],[2003.03,1.54],[2003.16,1.97],[2003.28,2.94],[2003.38,3.98],[2003.48,3.98],[2003.6,3.26],[2003.71,0.61],[2003.84,0.45],[2003.97,0.21],
];

const KAWAGOE: Pt[] = [
  [1997.27,19.75],[1997.36,19.8],[1997.44,20.3],[1997.53,20.8],[1997.66,20.4],[1997.8,18.6],[1997.9,18.5],[1998.0,18.05],[1998.1,18.2],[1998.24,17.6],[1998.33,17.65],[1998.5,18.5],[1998.65,17.5],[1998.78,16.1],[1998.95,16.5],[1999.13,17.65],[1999.25,17.7],[1999.37,17.5],[1999.55,18.85],[1999.7,17.65],[1999.85,17.2],[1999.97,17.05],[2000.1,17.7],[2000.25,18.2],[2000.43,19.1],[2000.55,19.1],[2000.64,18.2],[2000.78,16.45],[2000.9,16.5],[2001.08,17.2],[2001.2,17.2],[2001.35,18.85],[2001.5,19.35],[2001.65,18.1],[2001.74,16.5],[2001.85,15.4],[2002.03,16.3],[2002.2,17.25],[2002.5,18.95],[2002.63,17.7],[2002.81,16.45],[2002.92,16.45],[2003.04,17.3],[2003.16,17.05],[2003.3,17.55],[2003.45,18.5],[2003.57,18.05],[2003.7,16.7],[2003.84,16.2],[2003.98,16.25],[2004.1,17.15],[2004.28,17.8],[2004.46,19.0],[2004.58,20.3],[2004.73,18.7],[2004.94,16.3],[2005.08,16.7],[2005.35,17.65],[2005.58,18.7],[2005.7,17.4],[2005.85,16.1],[2006.06,16.7],[2006.24,17.5],[2006.41,18.4],[2006.6,19.25],[2006.78,17.8],[2007.0,16.15],[2007.12,16.6],[2007.4,17.8],[2007.6,19.0],[2007.78,17.7],[2007.96,16.9],[2008.2,17.25],[2008.37,18.05],[2008.6,18.4],[2008.72,16.9],[2008.93,16.0],[2009.08,16.3],[2009.25,16.3],[2009.43,17.0],[2009.6,17.8],[2009.78,16.6],[2009.97,16.3],[2010.05,17.25],[2010.23,16.9],[2010.4,17.7],[2010.58,18.6],[2010.73,16.9],[2010.85,15.15],[2010.94,16.2],[2011.08,16.7],[2011.2,16.85],[2011.38,17.7],[2011.5,18.5],[2011.65,16.3],[2011.8,15.8],[2012.0,16.4],[2012.18,16.6],[2012.36,16.7],[2012.58,18.05],[2012.75,16.5],[2012.93,16.4],[2013.15,16.6],[2013.33,17.25],[2013.47,18.45],[2013.57,18.1],[2013.7,18.8],[2013.82,16.9],[2013.96,16.05],[2014.1,16.05],[2014.23,16.9],[2014.35,17.3],[2014.46,16.3],[2014.58,16.4],[2014.76,15.7],[2014.94,16.1],[2015.17,16.8],[2015.3,17.7],[2015.38,18.3],[2015.56,17.8],[2015.77,15.6],[2015.9,15.9],[2016.1,16.6],[2016.22,16.7],[2016.35,18.1],[2016.52,17.9],[2016.7,17.65],[2016.88,17.8],[2017.0,15.8],[2017.18,16.6],[2017.42,18.8],[2017.6,17.4],[2017.77,16.3],[2017.95,15.3],[2018.07,15.4],[2018.2,17.0],[2018.33,16.6],[2018.44,17.6],[2018.56,18.2],[2018.7,17.25],[2018.83,16.0],[2019.0,16.6],[2019.2,17.4],[2019.42,19.0],[2019.55,16.9],[2019.74,15.9],[2019.9,15.05],[2020.18,16.3],[2020.32,16.15],[2020.44,17.0],[2020.56,16.05],[2020.7,15.95],[2020.85,15.7],[2020.97,17.1],[2021.15,17.6],[2021.27,17.75],[2021.4,18.5],[2021.58,17.0],[2021.76,15.6],[2021.97,15.9],[2022.15,16.85],[2022.3,16.4],[2022.44,17.1],[2022.56,16.9],[2022.74,15.3],[2023.0,15.5],[2023.14,16.6],[2023.3,17.1],[2023.42,16.25],[2023.55,17.75],[2023.7,15.95],[2023.85,15.8],[2023.97,15.95],
];

const SERIES = [
  { name: '和光', color: '#FF6600', data: WAKO },
  { name: '坂戸', color: '#0000FF', data: SAKADO },
  { name: '川越老袋', color: '#000000', data: OIBUKURO },
  { name: '三芳', color: '#800080', data: MIYOSHI },
  { name: '上福岡1', color: '#FF0000', data: KAMIFUKUOKA1 },
  { name: '上福岡2', color: '#FF00FF', data: KAMIFUKUOKA2 },
  { name: '上福岡3', color: '#FF99CC', data: KAMIFUKUOKA3 },
  { name: '川越', color: '#008000', data: KAWAGOE },
];

const ANNOTATIONS = [
  { text: '和光', t: 1977.5, v: 41.6 },
  { text: '坂戸', t: 1987.2, v: 48.3 },
  { text: '三芳', t: 2001.77, v: 37.93 },
  { text: '川越', t: 2008.5, v: 15.14 },
  { text: '川越老袋', t: 2015.9, v: 2.98 },
  { text: '上福岡1', t: 2007.6, v: 0.4 },
  { text: '上福岡3', t: 2007.55, v: 1.63 },
  { text: '上福岡2', t: 2007.45, v: 3.08 },
];

const NOTES = [
  { text: '※　平成11年より月1回の実測値', t: 1996.2, v: 77.0 },
  { text: '※　太線は自記記録計による連続観測、細線は月1回の点検時の手ばかり観測を示す。', t: 1996.2, v: 78.37 },
];

const JP_FONT = "'Noto Sans CJK JP', 'Noto Sans', sans-serif";
const LAT_FONT = "'Liberation Sans', Arial, sans-serif";

const toPoints = (pts: Pt[]) => pts.map(([t, v]) => ({ t, v }));

const X_TICKS = [...ERA_LABELS.map((_, i) => START_YEAR + i), END_YEAR];

const XTick = (props: any) => {
  const { x, y, payload } = props;
  const label = ERA_LABELS[Math.round(payload.value) - START_YEAR];
  if (!label) return <g />;
  return (
    <text x={x} y={y - 15} textAnchor="middle" fontSize={17} fill="#000" fontFamily={LAT_FONT}>
      {label}
    </text>
  );
};

const YTick = (props: any) => {
  const { x, y, payload } = props;
  return (
    <text x={x - 18} y={y} dy="0.36em" textAnchor="end" fontSize={19} fill="#000" fontFamily={LAT_FONT}>
      {payload.value}
    </text>
  );
};

const YTitle = () => (
  <text
    x={27}
    y={732}
    fontSize={24}
    fill="#000"
    fontFamily={JP_FONT}
    style={{ writingMode: 'vertical-rl', letterSpacing: 6 } as any}
  >
    管頭下水位　（m）
  </text>
);

const LegendBox = () => (
  <div
    style={{
      width: 138,
      height: 342,
      boxSizing: 'border-box',
      border: '2px solid #000',
      background: '#fff',
      fontFamily: JP_FONT,
      fontSize: 16,
      color: '#000',
    }}
  >
    {SERIES.map((s) => (
      <div key={s.name} style={{ height: 43, display: 'flex', alignItems: 'center' }}>
        <span
          style={{
            display: 'inline-block',
            width: 42,
            height: 0,
            borderTop: `2px solid ${s.color}`,
            marginLeft: 11,
            marginRight: 6,
          }}
        />
        <span style={{ lineHeight: '16px' }}>{s.name}</span>
      </div>
    ))}
  </div>
);

export default function App() {
  return (
    <LineChart
      width={2530}
      height={1705}
      margin={{ top: 0, right: 25, bottom: 8, left: 0 }}
      style={{ fontFamily: LAT_FONT, background: '#fff' }}
    >
      <CartesianGrid stroke="#000" strokeWidth={1.4} strokeOpacity={0.9} />
      <XAxis
        type="number"
        dataKey="t"
        orientation="top"
        domain={[START_YEAR, END_YEAR]}
        ticks={X_TICKS}
        interval={0}
        allowDataOverflow
        height={33}
        tickSize={0}
        tickMargin={0}
        tickLine={false}
        axisLine={false}
        tick={<XTick />}
      />
      <YAxis
        type="number"
        domain={[0, 80]}
        reversed
        ticks={DEPTH_TICKS}
        interval={0}
        allowDataOverflow
        width={92}
        tickSize={0}
        tickMargin={0}
        tickLine={false}
        axisLine={false}
        tick={<YTick />}
        label={<YTitle />}
      />
      <ReferenceArea x1={START_YEAR} x2={END_YEAR} y1={0} y2={80} fill="none" fillOpacity={0} stroke="#000" strokeWidth={2.6} />
      {SERIES.map((s) => (
        <Line
          key={s.name}
          name={s.name}
          data={toPoints(s.data)}
          dataKey="v"
          type="linear"
          stroke={s.color}
          strokeWidth={s.color === '#000000' ? 1.8 : 1.6}
          dot={false}
          activeDot={false}
          connectNulls={false}
          isAnimationActive={false}
        />
      ))}
      {ANNOTATIONS.map((a) => (
        <ReferenceDot
          key={a.text}
          x={a.t}
          y={a.v}
          r={0}
          fill="none"
          stroke="none"
          label={{ value: a.text, position: 'center', fontSize: 17, fill: '#000', fontFamily: JP_FONT }}
        />
      ))}
      {NOTES.map((n) => (
        <ReferenceDot
          key={n.text}
          x={n.t}
          y={n.v}
          r={0}
          fill="none"
          stroke="none"
          label={{ value: n.text, position: 'right', fontSize: 20, fill: '#000', fontFamily: JP_FONT }}
        />
      ))}
      <Legend
        layout="vertical"
        align="center"
        verticalAlign="middle"
        content={() => <LegendBox />}
        wrapperStyle={{ position: 'absolute', left: 2160, top: 1089, width: 138, height: 342 }}
      />
    </LineChart>
  );
}
